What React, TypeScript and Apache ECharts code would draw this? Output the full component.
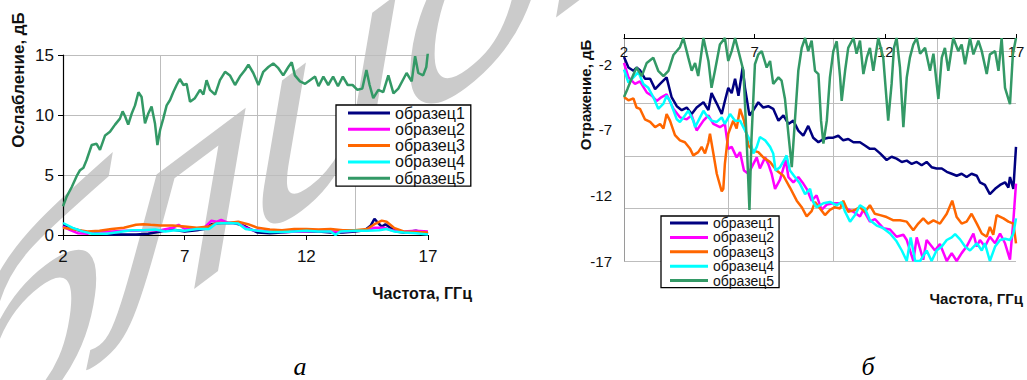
import React, { useEffect, useRef } from "react";
import * as echarts from "echarts";

const FONT = "'Liberation Sans', Arial, sans-serif";

const SERIES_NAMES = ["образец1", "образец2", "образец3", "образец4", "образец5"];
const SERIES_COLORS = ["#000080", "#ff00ff", "#ff6600", "#00ffff", "#339966"];

// tick labels
const X_TICKS = [2, 7, 12, 17];
const X_GRID_STEP = 4; // vertical gridlines at 6, 10, 14
const Y_A_TICKS = [0, 5, 10, 15];
const Y_B_TICKS = [-17, -12, -7, -2];
const Y_B_MAX = 0;
const Y_B_GRID_STEP = 4; // horizontal gridlines at -13, -9, -5, -1

const Y_A_NAME = "Ослабление, дБ";
const Y_B_NAME = "Отражение, дБ";
const X_NAME = "Частота, ГГц";
const CAPTION_A = "а";
const CAPTION_B = "б";
const WATERMARK = "библиотека";

// chart а: attenuation, dB  [frequency GHz, value]
const A1: number[][] = [[2,0.8],[2.3,0.6],[2.7,0.35],[3,0.2],[3.5,0.1],[4,0.05],[5,0.05],[5.5,0.1],[6,0.3],[6.5,0.45],[7,0.3],[7.5,0.4],[7.8,0.5],[8.1,0.9],[8.5,1.0],[9,1.0],[9.4,0.8],[9.7,0.5],[10,0.2],[10.5,0.15],[11,0.2],[11.5,0.3],[12,0.3],[12.5,0.3],[13,0.2],[13.5,0.2],[14,0.3],[14.4,0.4],[14.65,0.8],[14.8,1.35],[14.95,1.0],[15.1,0.7],[15.25,0.9],[15.45,0.6],[15.7,0.3],[16,0.2],[16.5,0.35],[17,0.1]];
const A2: number[][] = [[2,0.7],[2.3,0.4],[2.6,0.15],[3,0.1],[3.3,0.3],[4,0.3],[4.5,0.35],[5,0.35],[5.5,0.4],[6,0.4],[6.5,0.6],[6.75,0.85],[7,0.5],[7.5,0.5],[7.8,0.6],[8.1,1.2],[8.3,1.1],[8.5,1.25],[8.8,1.0],[9.2,1.0],[9.5,0.6],[9.8,0.4],[10.5,0.3],[11,0.25],[12,0.3],[12.5,0.35],[13,0.3],[13.5,0.3],[14,0.35],[14.5,0.4],[14.8,0.6],[15.2,0.6],[15.5,0.4],[16,0.3],[16.5,0.35],[17,0.3]];
const A3: number[][] = [[2,0.6],[2.5,0.45],[3,0.3],[3.5,0.35],[4,0.5],[4.5,0.6],[5,0.85],[5.3,0.9],[5.6,0.85],[6,0.8],[6.5,0.8],[7,0.7],[7.5,0.6],[8,0.7],[8.3,1.0],[8.8,1.0],[9.2,1.1],[9.6,0.9],[10,0.6],[10.5,0.45],[11,0.4],[11.5,0.5],[12,0.5],[12.5,0.45],[13,0.5],[13.5,0.4],[14,0.4],[14.5,0.5],[14.8,0.9],[15.1,1.2],[15.3,1.1],[15.6,0.6],[16,0.3],[16.5,0.25],[17,0.2]];
const A4: number[][] = [[2,1.0],[2.4,0.6],[2.8,0.3],[3.2,0.1],[3.8,0.1],[4.3,0.25],[4.8,0.4],[5.3,0.4],[5.8,0.45],[6.2,0.3],[6.6,0.4],[7,0.35],[7.5,0.5],[8,0.5],[8.3,0.95],[8.8,1.0],[9.2,0.95],[9.5,0.5],[10,0.35],[10.5,0.25],[11,0.25],[11.5,0.3],[12,0.35],[12.5,0.3],[13,0.3],[13.2,0.0],[13.4,0.3],[14,0.35],[14.5,0.35],[15,0.4],[15.3,0.5],[15.6,0.3],[16,0.2],[16.5,0.15],[17,0.05]];
const A5: number[][] = [[2.0,2.4],[2.15,3.2],[2.36,4.0],[2.56,4.9],[2.7,5.4],[2.84,5.6],[2.97,6.25],[3.18,7.5],[3.38,7.6],[3.52,7.1],[3.73,8.3],[3.93,8.6],[4.14,9.2],[4.34,9.7],[4.45,10.3],[4.55,9.9],[4.68,9.2],[4.82,10.1],[4.96,10.8],[5.1,11.9],[5.23,11.5],[5.37,9.3],[5.5,10.1],[5.64,10.7],[5.78,9.3],[5.88,7.5],[5.99,8.75],[6.12,9.7],[6.26,10.8],[6.4,11.25],[6.53,11.9],[6.67,12.5],[6.8,13.0],[6.95,12.5],[7.08,12.6],[7.22,11.1],[7.42,11.4],[7.63,12.1],[7.77,11.7],[7.9,12.9],[8.04,12.1],[8.25,11.7],[8.45,12.9],[8.66,13.6],[8.86,13.3],[9.07,12.5],[9.27,13.2],[9.48,13.75],[9.62,14.2],[9.82,13.5],[10.03,12.5],[10.23,13.6],[10.44,14.0],[10.64,14.3],[10.85,13.9],[11.05,13.3],[11.26,14.0],[11.4,14.4],[11.53,13.3],[11.74,12.8],[11.95,12.6],[12.15,12.9],[12.36,13.2],[12.5,12.4],[12.7,13.2],[12.9,12.5],[13.1,13.2],[13.3,12.4],[13.5,13.2],[13.7,12.5],[13.9,12.5],[14.1,12.1],[14.3,12.2],[14.47,13.75],[14.6,12.5],[14.75,11.4],[14.96,12.1],[15.16,11.9],[15.37,13.3],[15.58,11.8],[15.78,12.2],[15.99,13.0],[16.12,13.5],[16.33,12.8],[16.47,14.9],[16.6,13.5],[16.8,13.3],[16.93,14.0],[17.0,15.3]];

// chart б: reflection, dB  [frequency GHz, value]
const B1: number[][] = [[2.0,-1.45],[2.17,-2.25],[2.36,-2.5],[2.48,-2.25],[2.61,-2.45],[2.8,-3.1],[3.0,-3.1],[3.19,-3.9],[3.38,-3.5],[3.63,-3.0],[3.82,-4.5],[4.02,-5.2],[4.21,-5.5],[4.4,-5.3],[4.59,-5.8],[4.78,-5.3],[5.04,-4.9],[5.23,-5.5],[5.35,-4.2],[5.55,-5.0],[5.74,-5.8],[5.86,-4.8],[5.99,-3.8],[6.12,-4.2],[6.25,-3.1],[6.38,-4.4],[6.54,-2.25],[6.63,-3.8],[6.8,-5.9],[6.95,-5.5],[7.14,-4.9],[7.33,-5.3],[7.52,-5.2],[7.71,-5.4],[7.91,-6.3],[8.1,-5.9],[8.29,-6.55],[8.48,-6.3],[8.67,-7.06],[8.86,-7.45],[9.05,-6.7],[9.24,-7.6],[9.44,-7.95],[9.63,-7.7],[9.82,-7.6],[10.01,-7.6],[10.2,-7.45],[10.39,-7.8],[10.58,-7.7],[10.78,-7.95],[11.03,-7.95],[11.22,-8.2],[11.41,-8.45],[11.6,-8.45],[11.8,-8.8],[12.05,-9.3],[12.24,-9.05],[12.43,-9.2],[12.63,-9.45],[12.82,-9.35],[13.01,-9.6],[13.2,-9.45],[13.39,-9.7],[13.58,-9.45],[13.77,-9.85],[13.96,-9.95],[14.16,-9.95],[14.35,-10.2],[14.54,-10.35],[14.73,-10.5],[14.92,-10.35],[15.11,-10.6],[15.3,-10.35],[15.5,-10.5],[15.62,-11.0],[15.81,-11.2],[16.0,-11.9],[16.2,-11.5],[16.39,-11.2],[16.58,-11.0],[16.71,-11.4],[16.77,-10.6],[16.9,-11.5],[17.0,-8.3]];
const B2: number[][] = [[2.0,-1.9],[2.17,-3.0],[2.42,-3.5],[2.61,-3.3],[2.87,-4.15],[3.06,-4.4],[3.25,-4.8],[3.44,-4.5],[3.63,-4.3],[3.89,-5.4],[4.14,-6.05],[4.4,-6.2],[4.59,-5.9],[4.78,-7.05],[5.04,-6.3],[5.23,-5.9],[5.42,-6.55],[5.67,-6.8],[5.86,-6.55],[5.99,-8.45],[6.12,-8.3],[6.31,-9.1],[6.44,-8.7],[6.59,-10.1],[6.76,-10.35],[6.95,-9.6],[7.08,-9.1],[7.2,-9.95],[7.4,-9.1],[7.52,-9.6],[7.65,-10.35],[7.78,-11.5],[7.97,-10.8],[8.19,-9.3],[8.29,-10.6],[8.48,-11.0],[8.67,-10.6],[8.86,-11.1],[8.99,-11.5],[9.18,-12.4],[9.37,-12.0],[9.56,-13.1],[9.76,-12.7],[10.01,-12.6],[10.27,-12.6],[10.52,-13.0],[10.78,-13.25],[11.03,-13.6],[11.16,-13.1],[11.41,-14.0],[11.6,-13.8],[11.92,-14.5],[12.18,-14.6],[12.43,-15.15],[12.69,-15.0],[12.82,-15.4],[13.07,-17],[13.2,-15.2],[13.45,-16.9],[13.58,-15.4],[13.9,-16.2],[14.09,-15.7],[14.35,-17],[14.54,-16.4],[14.73,-17],[14.92,-16.4],[15.11,-15.9],[15.37,-14.9],[15.5,-15.9],[15.62,-15.4],[15.81,-15.9],[16.0,-15.15],[16.2,-15.65],[16.39,-14.9],[16.58,-15.65],[16.77,-16.9],[16.9,-13.9],[17.0,-11.1]];
const B3: number[][] = [[2.0,-4.5],[2.17,-4.75],[2.36,-4.6],[2.48,-5.3],[2.61,-5.4],[2.8,-6.2],[3.0,-6.4],[3.19,-6.8],[3.38,-6.55],[3.51,-6.9],[3.63,-5.8],[3.76,-6.3],[3.95,-7.4],[4.14,-7.8],[4.33,-7.95],[4.53,-8.45],[4.65,-8.95],[4.84,-8.7],[4.97,-8.3],[5.1,-8.8],[5.23,-7.95],[5.29,-7.3],[5.42,-8.8],[5.55,-10.35],[5.74,-11.7],[5.8,-11.5],[5.86,-9.6],[5.99,-7.3],[6.18,-6.3],[6.31,-6.9],[6.44,-5.4],[6.59,-6.3],[6.76,-8.2],[6.95,-8.6],[7.14,-8.7],[7.33,-9.1],[7.59,-9.45],[7.84,-10.1],[8.1,-10.5],[8.35,-11.4],[8.61,-12.4],[8.8,-12.9],[8.99,-13.6],[9.18,-13.2],[9.31,-12.5],[9.5,-13.0],[9.69,-13.5],[9.88,-13.1],[10.07,-12.9],[10.27,-13.0],[10.39,-12.4],[10.58,-13.25],[10.84,-13.1],[11.03,-12.9],[11.22,-13.25],[11.41,-12.75],[11.6,-13.4],[11.8,-13.5],[12.05,-13.65],[12.31,-13.9],[12.56,-13.9],[12.82,-14.0],[13.07,-14.65],[13.26,-14.15],[13.45,-13.75],[13.64,-14.15],[13.84,-13.9],[14.09,-14.15],[14.35,-13.4],[14.56,-12.4],[14.73,-13.65],[14.92,-14.15],[15.11,-14.0],[15.3,-13.4],[15.5,-14.15],[15.69,-14.9],[15.88,-15.15],[16.0,-14.4],[16.13,-15.0],[16.26,-13.5],[16.52,-13.75],[16.71,-14.0],[16.9,-14.15],[17.0,-15.65]];
const B4: number[][] = [[2.0,-2.4],[2.17,-3.4],[2.36,-3.0],[2.55,-2.6],[2.74,-3.5],[2.93,-3.8],[3.12,-4.5],[3.31,-5.4],[3.51,-5.0],[3.63,-4.4],[3.76,-4.8],[4.02,-6.2],[4.14,-6.4],[4.33,-5.9],[4.46,-5.55],[4.65,-6.3],[4.72,-6.8],[4.91,-6.05],[5.04,-5.55],[5.16,-5.9],[5.35,-6.3],[5.55,-6.4],[5.74,-6.05],[5.86,-6.55],[6.06,-5.8],[6.25,-6.3],[6.44,-6.3],[6.63,-7.05],[6.82,-7.8],[6.95,-8.8],[7.08,-8.3],[7.2,-7.55],[7.4,-7.8],[7.59,-8.3],[7.71,-8.8],[7.8,-10.1],[7.97,-9.85],[8.16,-9.2],[8.22,-8.95],[8.35,-10.1],[8.54,-10.6],[8.73,-11.1],[8.93,-11.9],[9.12,-11.5],[9.24,-12.5],[9.37,-12.9],[9.63,-12.6],[9.88,-12.5],[10.14,-12.75],[10.33,-12.5],[10.46,-13.25],[10.65,-14.0],[10.84,-13.5],[11.03,-12.75],[11.22,-13.0],[11.41,-13.9],[11.67,-14.3],[11.92,-14.5],[12.18,-14.9],[12.43,-15.5],[12.63,-16.2],[12.82,-17],[12.97,-15.2],[13.14,-17],[13.33,-17],[13.58,-16.2],[13.77,-17],[13.96,-16.2],[14.16,-15.9],[14.35,-15.4],[14.54,-15.2],[14.67,-14.95],[14.86,-15.35],[15.05,-15.9],[15.24,-16.2],[15.5,-15.65],[15.69,-16.2],[15.81,-15.65],[16.0,-17],[16.2,-15.9],[16.39,-15.4],[16.58,-15.3],[16.77,-15.4],[16.9,-14.9],[17.0,-13.75]];
const B5: number[][] = [[2.0,-4.5],[2.13,-3.9],[2.29,-3.1],[2.48,-2.25],[2.68,-2.9],[2.87,-1.9],[3.12,-1.5],[3.31,-2.5],[3.51,-2.9],[3.7,-2.5],[3.89,-1.3],[4.14,-0.7],[4.27,0],[4.46,-1.5],[4.59,-2.5],[4.72,-1.9],[4.84,-2.9],[5.04,0],[5.23,-1.75],[5.35,-3.8],[5.48,-2.5],[5.67,-0.5],[5.86,0],[5.99,-1.75],[6.12,-1.0],[6.25,0],[6.38,-1.0],[6.57,-2.5],[6.69,-7.6],[6.8,-13.1],[6.88,-7.6],[7.01,-2.0],[7.14,-1.25],[7.27,-1.0],[7.46,-2.25],[7.59,-1.75],[7.71,-3.5],[7.91,-3.0],[8.03,-3.25],[8.16,-4.65],[8.29,-7.3],[8.42,-9.85],[8.54,-6.3],[8.67,-2.5],[8.8,-0.75],[8.93,0],[9.05,-1.0],[9.18,-0.2],[9.31,-2.5],[9.44,-2.75],[9.54,-6.3],[9.63,-8.05],[9.76,-6.3],[9.88,-3.0],[10.01,-1.0],[10.14,-0.25],[10.27,-3.0],[10.33,-4.8],[10.46,-2.5],[10.58,-0.75],[10.78,0],[10.9,-1.2],[11.03,-0.2],[11.16,-2.75],[11.29,-1.5],[11.41,-0.75],[11.54,-2.5],[11.73,0],[11.92,-1.5],[12.11,-6.3],[12.24,-3.5],[12.33,-0.75],[12.43,0],[12.56,-2.25],[12.69,-6.8],[12.82,-3.0],[12.94,-1.5],[13.07,-0.5],[13.2,0],[13.33,-1.2],[13.52,-0.75],[13.71,-2.5],[13.84,-1.2],[14.03,-4.65],[14.16,-1.5],[14.28,-0.75],[14.41,-2.5],[14.6,0],[14.79,-1.0],[14.92,-0.5],[15.05,-2.0],[15.24,0],[15.37,-1.25],[15.56,-0.2],[15.69,-1.0],[15.88,-2.75],[16.0,-1.25],[16.2,-1.0],[16.33,-2.5],[16.45,0],[16.58,-3.8],[16.77,-5.05],[16.88,-1.25],[17.0,0]];

const SERIES_A = [A1, A2, A3, A4, A5];
const SERIES_B = [B1, B2, B3, B4, B5];

// 2x2 SVD so that a sheared text can be built from rotate-scale-rotate
function shearParts(k: number) {
  const a = 1, b = 0, c = -k, d = 1;
  const E = (a + d) / 2, F = (a - d) / 2, G = (c + b) / 2, H = (c - b) / 2;
  const Q = Math.hypot(E, H), R = Math.hypot(F, G);
  const a1 = Math.atan2(G, F), a2 = Math.atan2(H, E);
  return { s1: Q + R, s2: Q - R, th: (a2 - a1) / 2, ph: (a2 + a1) / 2 };
}

export default function App() {
  const ref = useRef<HTMLDivElement>(null);

  useEffect(() => {
    if (!ref.current) return;
    const chart = echarts.init(ref.current, undefined, { renderer: "svg" });

    const xMin = X_TICKS[0];
    const xMax = X_TICKS[X_TICKS.length - 1];
    const xStep = X_TICKS[1] - X_TICKS[0];
    const yAMin = Y_A_TICKS[0];
    const yAMax = Y_A_TICKS[Y_A_TICKS.length - 1];
    const yAStep = Y_A_TICKS[1] - Y_A_TICKS[0];
    const yBMin = Y_B_TICKS[0];
    const yBStep = Y_B_TICKS[1] - Y_B_TICKS[0];

    const gridLine = { show: true, lineStyle: { color: "#bdbdbd", width: 1 } };
    const labelStyle = (size: number) => ({ color: "#111", fontFamily: FONT, fontSize: size });

    const lineSeries = (data: number[][], i: number, xi: number, yi: number) => ({
      type: "line",
      name: SERIES_NAMES[i],
      data,
      xAxisIndex: xi,
      yAxisIndex: yi,
      showSymbol: false,
      symbol: "none",
      clip: true,
      lineStyle: { color: SERIES_COLORS[i], width: 2.5 },
      itemStyle: { color: SERIES_COLORS[i] },
      z: 3,
    });

    const wmSize = 270;
    const sh = shearParts(0.75);

    const option: any = {
      animation: false,
      backgroundColor: "#fff",
      grid: [
        { left: 63, top: 55, width: 365, height: 180, containLabel: false, outerBoundsMode: "none" },
        { left: 624, top: 38, width: 392, height: 223, containLabel: false, outerBoundsMode: "none" },
      ],
      xAxis: [
        {
          gridIndex: 0, type: "value", min: xMin, max: xMax, interval: xStep,
          axisLine: { show: true, lineStyle: { color: "#000", width: 1.2 } },
          axisTick: { show: true, length: 5, lineStyle: { color: "#000" } },
          axisLabel: { ...labelStyle(17), margin: 13 },
          splitLine: { show: false },
        },
        {
          gridIndex: 0, type: "value", min: xMin, max: xMax, interval: X_GRID_STEP,
          axisLine: { show: false }, axisTick: { show: false }, axisLabel: { show: false },
          splitLine: { ...gridLine, showMinLine: false, showMaxLine: false },
        },
        {
          gridIndex: 1, type: "value", position: "top", min: xMin, max: xMax, interval: xStep,
          axisLine: { show: true, lineStyle: { color: "#000", width: 1.2 } },
          axisTick: { show: true, length: 4, lineStyle: { color: "#000" } },
          axisLabel: { ...labelStyle(15), inside: true, margin: 6 },
          splitLine: { show: false },
        },
        {
          gridIndex: 1, type: "value", min: xMin, max: xMax, interval: X_GRID_STEP,
          axisLine: { show: false }, axisTick: { show: false }, axisLabel: { show: false },
          splitLine: { ...gridLine, showMinLine: false, showMaxLine: false },
        },
      ],
      yAxis: [
        {
          gridIndex: 0, type: "value", min: yAMin, max: yAMax, interval: yAStep,
          axisLine: { show: true, lineStyle: { color: "#000", width: 1.2 } },
          axisTick: { show: true, length: 5, lineStyle: { color: "#000" } },
          axisLabel: { ...labelStyle(17), margin: 9 },
          splitLine: { ...gridLine, showMinLine: false },
        },
        {
          gridIndex: 1, type: "value", min: yBMin, max: Y_B_MAX, interval: yBStep,
          axisLine: { show: true, lineStyle: { color: "#9a9a9a", width: 1 } },
          axisTick: { show: false },
          axisLabel: { ...labelStyle(15), margin: 12, showMaxLabel: false },
          splitLine: { show: false },
        },
        {
          gridIndex: 1, type: "value", min: yBMin, max: Y_B_MAX, interval: Y_B_GRID_STEP,
          axisLine: { show: false }, axisTick: { show: false }, axisLabel: { show: false },
          splitLine: { ...gridLine, showMaxLine: false },
        },
      ],
      legend: [
        {
          data: SERIES_NAMES, selectedMode: false, orient: "vertical",
          left: 336, top: 105, itemWidth: 42, itemHeight: 3, itemGap: 0.3, icon: "rect",
          backgroundColor: "#fff", borderColor: "#000", borderWidth: 1.3,
          padding: [0, 6, 0, 12],
          textStyle: { color: "#111", fontFamily: FONT, fontSize: 16, lineHeight: 16 },
          z: 10,
        },
        {
          data: SERIES_NAMES, selectedMode: false, orient: "vertical",
          left: 661, top: 216, itemWidth: 38, itemHeight: 3, itemGap: 0.4, icon: "rect",
          backgroundColor: "#fff", borderColor: "#000", borderWidth: 1.3,
          padding: [0, 5, 0, 9],
          textStyle: { color: "#111", fontFamily: FONT, fontSize: 14, lineHeight: 14 },
          z: 10,
        },
      ],
      graphic: [
        {
          type: "group", z: -10, silent: true,
          x: -349, y: 681 + 0.21 * wmSize,
          scaleX: sh.s1, scaleY: sh.s2, rotation: -sh.ph,
          children: [
            {
              type: "text", rotation: -sh.th, silent: true,
              style: {
                text: WATERMARK, fill: "#cbcbcb", font: `italic ${wmSize}px ${FONT}`,
                textAlign: "left", textVerticalAlign: "bottom",
              },
            },
          ],
        },
        {
          type: "text", x: 18, y: 80, rotation: Math.PI / 2,
          style: { text: Y_A_NAME, fill: "#111", font: `bold 17px ${FONT}`, textAlign: "center", textVerticalAlign: "middle" },
        },
        {
          type: "text", x: 585, y: 95, rotation: Math.PI / 2,
          style: { text: Y_B_NAME, fill: "#111", font: `bold 15px ${FONT}`, textAlign: "center", textVerticalAlign: "middle" },
        },
        {
          type: "text", x: 472, y: 293,
          style: { text: X_NAME, fill: "#111", font: `bold 16px ${FONT}`, textAlign: "right", textVerticalAlign: "middle" },
        },
        {
          type: "text", x: 1023, y: 298,
          style: { text: X_NAME, fill: "#111", font: `bold 15px ${FONT}`, textAlign: "right", textVerticalAlign: "middle" },
        },
        {
          type: "text", x: 300, y: 366,
          style: { text: CAPTION_A, fill: "#000", font: `italic 26px 'Liberation Serif', 'Times New Roman', serif`, textAlign: "center", textVerticalAlign: "middle" },
        },
        {
          type: "text", x: 868, y: 366,
          style: { text: CAPTION_B, fill: "#000", font: `italic 26px 'Liberation Serif', 'Times New Roman', serif`, textAlign: "center", textVerticalAlign: "middle" },
        },
      ],
      series: [
        ...SERIES_A.map((d, i) => lineSeries(d, i, 0, 0)),
        ...SERIES_B.map((d, i) => lineSeries(d, i, 2, 1)),
      ],
    };

    chart.setOption(option);
    return () => chart.dispose();
  }, []);

  return (
    <div
      ref={ref}
      style={{ position: "fixed", left: 0, top: 0, width: 1027, height: 380, background: "#fff" }}
    />
  );
}
